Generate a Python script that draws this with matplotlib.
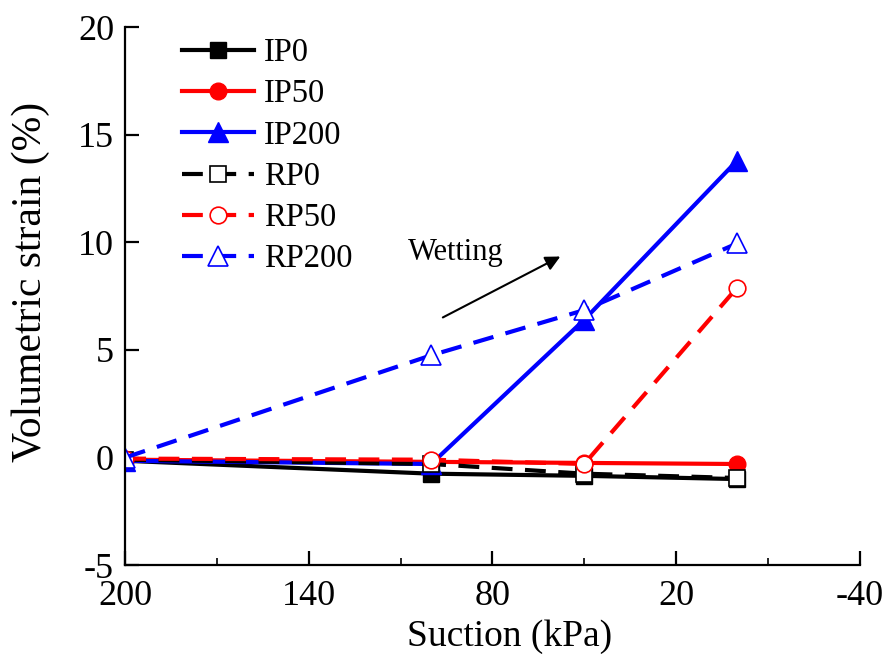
import numpy as np
import matplotlib.pyplot as plt

plt.rcParams['font.family'] = ['Liberation Serif', 'DejaVu Serif']
plt.rcParams['axes.unicode_minus'] = False

# Suction steps during wetting (kPa)
suction = [200, 100, 50, 0]

# Volumetric strain (%) for each specimen
ip0 = [-0.15, -0.75, -0.85, -1.0]
ip50 = [-0.1, -0.2, -0.25, -0.3]
ip200 = [-0.15, -0.3, 6.4, 13.8]
rp0 = [-0.1, -0.3, -0.75, -0.95]
rp50 = [-0.05, -0.1, -0.3, 7.9]
rp200 = [0.0, 4.75, 6.85, 9.95]

labels = ['IP0', 'IP50', 'IP200', 'RP0', 'RP50', 'RP200']
xticks = [200, 140, 80, 20, -40]
xminor = [170, 110, 50, -10]
yticks = [-5, 0, 5, 10, 15, 20]

fig = plt.figure(figsize=(8.88, 6.61), dpi=100)
ax = fig.add_axes([0.141, 0.145, 0.827, 0.814])

dash = (0, (5, 3))
lw = 3
ms = 11

ax.plot(suction, ip0, color='black', lw=lw, marker='s', ms=ms, label=labels[0])
ax.plot(suction, ip50, color='red', lw=lw, marker='o', ms=ms + 1, label=labels[1])
ax.plot(suction, ip200, color='blue', lw=lw, marker='^', ms=ms + 3, label=labels[2])
ax.plot(suction, rp0, color='black', lw=lw, ls=dash, marker='s', ms=ms,
        mfc='white', mec='black', mew=1.2, label=labels[3])
ax.plot(suction, rp50, color='red', lw=lw, ls=dash, marker='o', ms=ms + 1,
        mfc='white', mec='red', mew=1.2, label=labels[4])
ax.plot(suction, rp200, color='blue', lw=lw, ls=dash, marker='^', ms=ms + 3,
        mfc='white', mec='blue', mew=1.2, label=labels[5])

# Wetting direction
ax.annotate('', xy=(57, 9.4), xytext=(97, 6.45),
            arrowprops=dict(arrowstyle='-|>', color='black', lw=1.5,
                            mutation_scale=22))
ax.text(107.5, 9.55, 'Wetting', fontsize=22, va='center', ha='left')

ax.set_xlim(200, -40)
ax.set_ylim(-5, 20)
ax.set_xticks(xticks)
ax.set_xticks(xminor, minor=True)
ax.set_yticks(yticks)

ax.spines['top'].set_visible(False)
ax.spines['right'].set_visible(False)
for s in ['left', 'bottom']:
    ax.spines[s].set_linewidth(1.6)

ax.tick_params(axis='both', which='major', direction='in', length=10, width=1.6,
               labelsize=26, pad=8)
ax.tick_params(axis='x', which='major', pad=11)
ax.tick_params(axis='x', which='minor', direction='in', length=5, width=1.2)

ax.set_xlabel('Suction (kPa)', fontsize=27)
ax.xaxis.set_label_coords(0.524, -0.1)
ax.set_ylabel('Volumetric strain (%)', fontsize=30)
ax.yaxis.set_label_coords(-0.103, 0.526)

ax.legend(loc='upper left', bbox_to_anchor=(0.038, 1.035), frameon=False,
          fontsize=23.5, handlelength=2.2, labelspacing=0.33, handletextpad=0.3)

fig.savefig('out.png', dpi=100)
